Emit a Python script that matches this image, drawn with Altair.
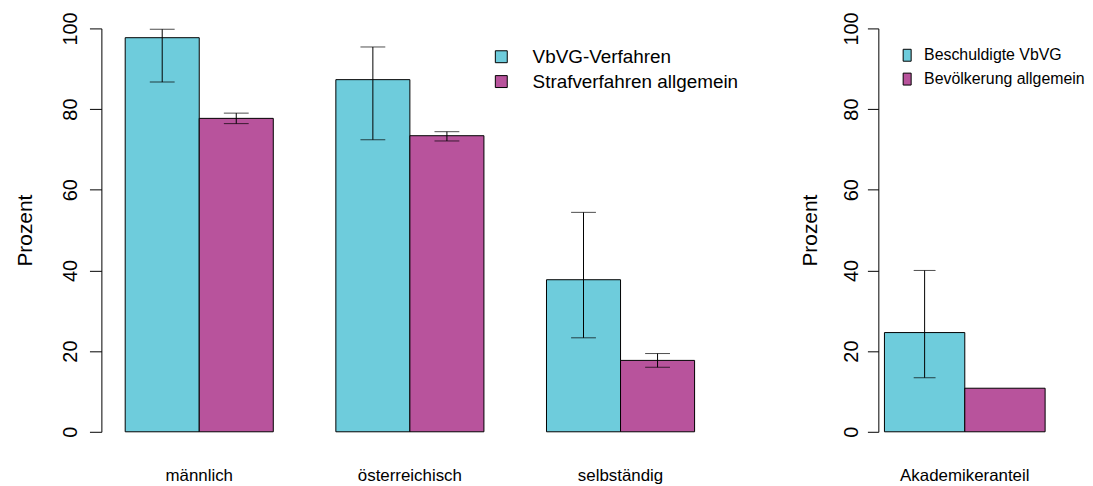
import altair as alt
import pandas as pd

FONT = "Liberation Sans"
CYAN = "#6ECCDC"
MAGENTA = "#B8539C"

# ---- left panel data ----
categories = ["männlich", "österreichisch", "selbständig"]
series_left = ["VbVG-Verfahren", "Strafverfahren allgemein"]
vbvg = [97.7, 87.3, 37.7]
vbvg_lo = [86.7, 72.4, 23.3]
vbvg_hi = [99.8, 95.4, 54.4]
straf = [77.7, 73.4, 17.7]
straf_lo = [76.4, 72.1, 16.0]
straf_hi = [79.0, 74.4, 19.4]

# ---- right panel data ----
categories_r = ["Akademikeranteil"]
series_right = ["Beschuldigte VbVG", "Bevölkerung allgemein"]
besch = [24.6]
besch_lo = [13.4]
besch_hi = [40.0]
bev = [10.8]
bev_lo = [None]
bev_hi = [None]

yticks = [0, 20, 40, 60, 80, 100]

rows = []
for i, c in enumerate(categories):
    rows.append(dict(cat=c, series=series_left[0], value=vbvg[i], lo=vbvg_lo[i], hi=vbvg_hi[i]))
    rows.append(dict(cat=c, series=series_left[1], value=straf[i], lo=straf_lo[i], hi=straf_hi[i]))
df_left = pd.DataFrame(rows)

rows = []
for i, c in enumerate(categories_r):
    rows.append(dict(cat=c, series=series_right[0], value=besch[i], lo=besch_lo[i], hi=besch_hi[i]))
    rows.append(dict(cat=c, series=series_right[1], value=bev[i], lo=bev_lo[i], hi=bev_hi[i]))
df_right = pd.DataFrame(rows)

H = 406


def panel(df, cats, series, width, pad_inner, pad_outer, cap, tick_size, label_pad, title_x,
          legend_x, legend_y, legend_font, symbol_shape, legend_offset, row_pad):
    x_axis = alt.Axis(title=None, domain=False, ticks=False, labelAngle=0,
                      labelFont=FONT, labelFontSize=17, labelColor="black",
                      labelBaseline="alphabetic", labelPadding=49)
    x = alt.X("cat:N", sort=cats,
              scale=alt.Scale(paddingInner=pad_inner, paddingOuter=pad_outer), axis=x_axis)
    xoff = alt.XOffset("series:N", sort=series, scale=alt.Scale(paddingInner=0, paddingOuter=0))
    y_axis = alt.Axis(title="Prozent", values=yticks, grid=False,
                      domainColor="black", tickColor="black", tickSize=tick_size,
                      labelAngle=270, labelAlign="center", labelBaseline="alphabetic",
                      labelPadding=label_pad, labelFont=FONT, labelFontSize=20,
                      labelColor="black", titleFont=FONT, titleFontSize=21,
                      titleFontWeight="normal", titleColor="black", titleAngle=270,
                      titleAlign="center", titleBaseline="alphabetic",
                      titleX=title_x, titleY=H / 2)
    yscale = alt.Scale(domain=[0, 100], nice=False)
    color = alt.Color("series:N", sort=series,
                      scale=alt.Scale(domain=series, range=[CYAN, MAGENTA]),
                      legend=alt.Legend(title=None, orient="none", legendX=legend_x,
                                        legendY=legend_y, symbolType=symbol_shape,
                                        symbolSize=144, symbolStrokeColor="black",
                                        symbolStrokeWidth=1, labelFont=FONT,
                                        labelFontSize=legend_font, labelColor="black",
                                        labelOffset=legend_offset, labelLimit=400,
                                        rowPadding=row_pad, padding=0))
    bars = alt.Chart(df).mark_bar(stroke="black", strokeWidth=1).encode(
        x=x, xOffset=xoff,
        y=alt.Y("value:Q", scale=yscale, axis=y_axis), color=color)
    err_df = df.dropna(subset=["lo", "hi"])
    base = alt.Chart(err_df).encode(x=x, xOffset=xoff)
    rule = base.mark_rule(color="black", strokeWidth=1).encode(
        y=alt.Y("lo:Q", scale=yscale, axis=y_axis), y2="hi:Q")
    cap_lo = base.mark_tick(color="black", size=cap, thickness=1, orient="horizontal").encode(
        y=alt.Y("lo:Q", scale=yscale, axis=y_axis))
    cap_hi = base.mark_tick(color="black", size=cap, thickness=1, orient="horizontal").encode(
        y=alt.Y("hi:Q", scale=yscale, axis=y_axis))
    return alt.layer(bars, rule, cap_lo, cap_hi).properties(width=width, height=H)


left = panel(df_left, categories, series_left, 621, 0.297, 0.113, 25, 12, 13, -70,
             393, 19, 19, "square", 22, 5)
right = panel(df_right, categories_r, series_right, 174, 0.0, 0.038, 22, 11, 10, -62,
              21, 19, 16, "M-0.67,-1H0.67V1H-0.67Z", 9, 8)

chart = alt.hconcat(left, right, spacing=62).resolve_scale(
    color="independent", x="independent", xOffset="independent"
).properties(
    padding={"left": 7, "top": 2, "right": 0, "bottom": 0}
).configure_view(strokeWidth=0)

chart.save("out.html", embed_options={"renderer": "svg", "actions": False})
